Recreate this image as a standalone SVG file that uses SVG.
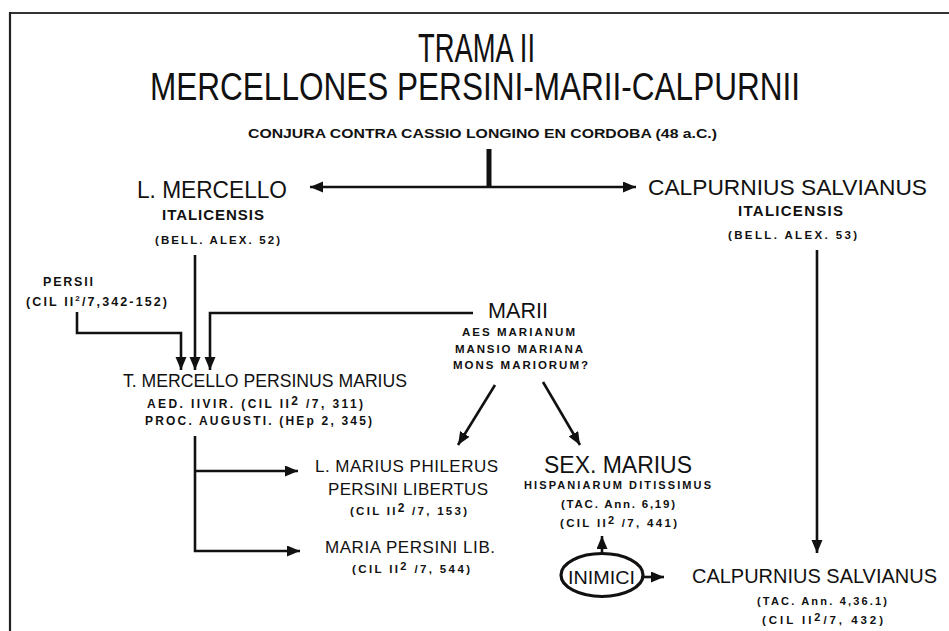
<svg xmlns="http://www.w3.org/2000/svg" width="949" height="631" viewBox="0 0 949 631">
<style>
text{font-family:"Liberation Sans",Arial,Helvetica,sans-serif;fill:#111}
.t{font-weight:normal}
.b{font-weight:bold}
.ln{stroke:#111;stroke-width:2.6;fill:none}
</style>
<defs>
<marker id="ah" markerUnits="userSpaceOnUse" markerWidth="14" markerHeight="12" refX="13" refY="5.5" orient="auto">
<path d="M0,0 L13,5.5 L0,11 z" fill="#111"/>
</marker>
</defs>
<rect width="949" height="631" fill="#fff"/>
<g id="frame">
<line x1="10" y1="13" x2="949" y2="13" stroke="#333" stroke-width="2"/>
<line x1="10" y1="12" x2="10" y2="631" stroke="#222" stroke-width="2.2"/>
</g>
<g id="title">
<text class="t" x="418" y="62" font-size="40" textLength="117" lengthAdjust="spacingAndGlyphs">TRAMA II</text>
<text class="t" x="150" y="100" font-size="38" textLength="650" lengthAdjust="spacingAndGlyphs">MERCELLONES PERSINI-MARII-CALPURNII</text>
</g>
<g id="conjura">
<text class="b" x="248" y="138" font-size="13.5" textLength="469" lengthAdjust="spacingAndGlyphs">CONJURA CONTRA CASSIO LONGINO EN CORDOBA  (48 a.C.)</text>
</g>
<g id="l-mercello">
<text class="t" x="137" y="198" font-size="23" textLength="150" lengthAdjust="spacingAndGlyphs">L. MERCELLO</text>
<text class="b" x="162" y="220" font-size="15" textLength="102">ITALICENSIS</text>
<text class="b" x="155" y="244" font-size="11.5" textLength="125">(BELL. ALEX. 52)</text>
</g>
<g id="calpurnius-1">
<text class="t" x="648" y="195" font-size="22.5" textLength="279" lengthAdjust="spacingAndGlyphs">CALPURNIUS SALVIANUS</text>
<text class="b" x="738" y="216" font-size="15" textLength="105">ITALICENSIS</text>
<text class="b" x="728" y="239" font-size="11.5" textLength="129">(BELL. ALEX. 53)</text>
</g>
<g id="persii">
<text class="b" x="43" y="286" font-size="12.5" textLength="50">PERSII</text>
<text class="b" x="26" y="306" font-size="12.5" textLength="141">(CIL II<tspan font-size="8" dy="-5">2</tspan><tspan dy="5">/7,342-152)</tspan></text>
</g>
<g id="marii">
<text class="t" x="488" y="318" font-size="22" textLength="60" lengthAdjust="spacingAndGlyphs">MARII</text>
<text class="b" x="462" y="336" font-size="11.5" textLength="113">AES MARIANUM</text>
<text class="b" x="455" y="353" font-size="11.5" textLength="128">MANSIO MARIANA</text>
<text class="b" x="453" y="369" font-size="11.5" textLength="135">MONS MARIORUM?</text>
</g>
<g id="t-mercello">
<text class="t" x="123" y="387" font-size="18" textLength="284" lengthAdjust="spacingAndGlyphs">T. MERCELLO PERSINUS MARIUS</text>
<text class="b" x="147" y="408" font-size="12" textLength="216">AED. IIVIR. (CIL II<tspan font-size="12" dy="-3">2</tspan><tspan dy="3"> /7, 311)</tspan></text>
<text class="b" x="145" y="425" font-size="12" textLength="227">PROC. AUGUSTI.  (HEp 2, 345)</text>
</g>
<g id="philerus">
<text class="t" x="315" y="472" font-size="17" textLength="183">L. MARIUS PHILERUS</text>
<text class="t" x="328" y="495" font-size="17" textLength="160">PERSINI LIBERTUS</text>
<text class="b" x="350" y="515" font-size="11.5" textLength="117">(CIL II<tspan font-size="12" dy="-3">2</tspan><tspan dy="3"> /7, 153)</tspan></text>
</g>
<g id="maria">
<text class="t" x="325" y="553" font-size="17" textLength="170">MARIA PERSINI LIB.</text>
<text class="b" x="352" y="573" font-size="11.5" textLength="118">(CIL II<tspan font-size="11" dy="-3">2</tspan><tspan dy="3"> /7, 544)</tspan></text>
</g>
<g id="sex-marius">
<text class="t" x="544" y="473" font-size="24" textLength="148" lengthAdjust="spacingAndGlyphs">SEX. MARIUS</text>
<text class="b" x="524" y="489" font-size="11" textLength="187">HISPANIARUM DITISSIMUS</text>
<text class="b" x="561" y="508" font-size="11.5" textLength="114">(TAC. Ann. 6,19)</text>
<text class="b" x="560" y="527" font-size="11.5" textLength="117">(CIL II<tspan font-size="11" dy="-3">2</tspan><tspan dy="3"> /7, 441)</tspan></text>
</g>
<g id="inimici">
<ellipse cx="602" cy="575" rx="41" ry="21.5" fill="none" stroke="#111" stroke-width="3.2"/>
<text class="t" x="568" y="584" font-size="18" textLength="67" lengthAdjust="spacingAndGlyphs">INIMICI</text>
</g>
<g id="calpurnius-2">
<text class="t" x="692" y="583" font-size="20" textLength="245" lengthAdjust="spacingAndGlyphs">CALPURNIUS SALVIANUS</text>
<text class="b" x="757" y="605" font-size="11" textLength="130">(TAC. Ann. 4,36.1)</text>
<text class="b" x="762" y="624" font-size="11.5" textLength="121">(CIL II<tspan font-size="11" dy="-3">2</tspan><tspan dy="3">/7, 432)</tspan></text>
</g>
<g id="connectors">
<rect x="486.5" y="149" width="5" height="39" fill="#111"/>
<line class="ln" x1="489" y1="187" x2="310" y2="187" marker-end="url(#ah)"/>
<line class="ln" x1="489" y1="187" x2="636" y2="187" marker-end="url(#ah)"/>
<line class="ln" x1="195" y1="255" x2="195" y2="370" marker-end="url(#ah)"/>
<polyline class="ln" points="77,312 77,333 181,333 181,370" marker-end="url(#ah)"/>
<polyline class="ln" points="473,313 210,313 210,370" marker-end="url(#ah)"/>
<line class="ln" x1="495" y1="385" x2="458" y2="445" marker-end="url(#ah)"/>
<line class="ln" x1="543" y1="382" x2="580" y2="445" marker-end="url(#ah)"/>
<polyline class="ln" points="195,436 195,551 300,551" marker-end="url(#ah)"/>
<line class="ln" x1="195" y1="471" x2="298" y2="471" marker-end="url(#ah)"/>
<line class="ln" x1="817" y1="250" x2="817" y2="553" marker-end="url(#ah)"/>
<line class="ln" x1="602" y1="553" x2="602" y2="536" marker-end="url(#ah)"/>
<line class="ln" x1="643" y1="577" x2="664" y2="577" marker-end="url(#ah)"/>
</g>
</svg>
